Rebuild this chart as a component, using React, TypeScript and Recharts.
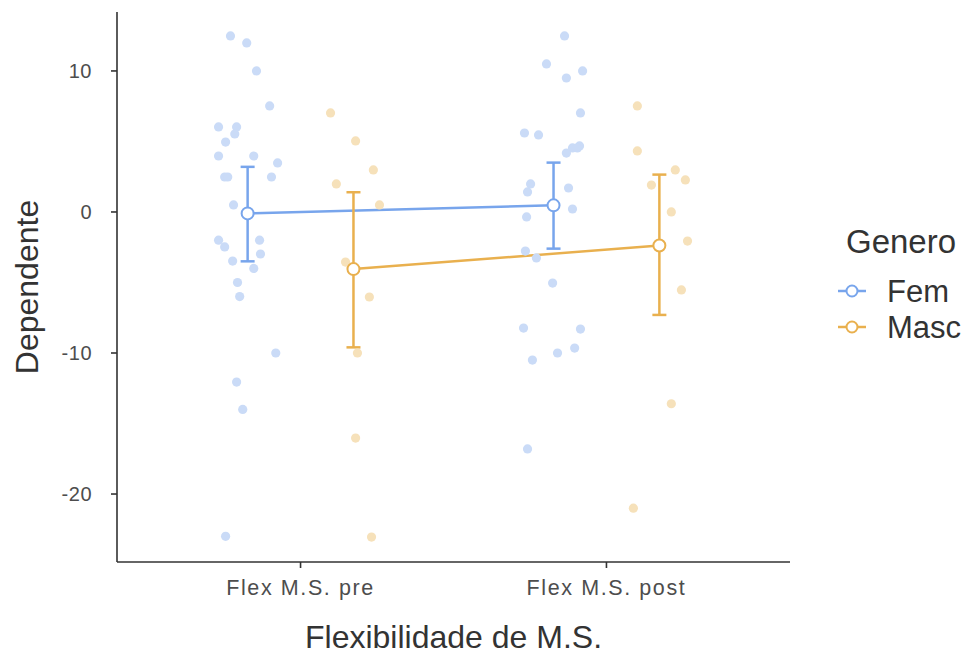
import React from 'react';
import { ComposedChart, Scatter, Line, XAxis, YAxis, ErrorBar, Label } from 'recharts';

// ---------- data ----------
const categories = ['Flex M.S. pre', 'Flex M.S. post'];
const groupNames = ['Fem', 'Masc'];
const groupColors = ['#78a5ec', '#e9b04e'];
const pointColors = ['#cadbf7', '#f6e1ba'];
const yTicks = [-20, -10, 0, 10];

const xTitle = 'Flexibilidade de M.S.';
const yTitle = 'Dependente';
const legendTitle = 'Genero';

// individual observations (value) and horizontal jitter (x units)
const femPreValues = [12.48, 11.99, 10.0, 7.52, 6.03, 6.03, 5.53, 4.96, 3.97, 3.97, 3.48, 2.48, 2.48, 2.48, 0.5, -2.0, -2.0, -2.48, -2.98, -3.48, -4.0, -5.0, -6.0, -10.0, -12.06, -14.0, -23.0];
const femPreJitter = [-0.056, -0.003, 0.029, 0.072, -0.095, -0.036, -0.042, -0.072, -0.095, 0.02, 0.098, -0.075, -0.065, 0.078, -0.046, -0.095, 0.039, -0.075, 0.042, -0.049, 0.02, -0.033, -0.026, 0.092, -0.036, -0.016, -0.072];

const femPostValues = [12.48, 10.5, 10.0, 9.5, 7.02, 5.6, 5.46, 4.68, 4.54, 4.54, 4.18, 1.99, 1.7, 1.42, 0.21, -0.35, -2.77, -3.26, -5.04, -8.23, -8.3, -9.65, -10.0, -10.5, -16.8];
const femPostJitter = [0.036, -0.023, 0.095, 0.042, 0.088, -0.095, -0.049, 0.085, 0.062, 0.078, 0.042, -0.075, 0.049, -0.085, 0.062, -0.088, -0.092, -0.056, -0.003, -0.098, 0.088, 0.069, 0.013, -0.069, -0.085];

const mascPreValues = [7.02, 5.04, 2.98, 1.99, 0.5, -3.55, -6.03, -10.0, -16.03, -23.05];
const mascPreJitter = [-0.075, 0.007, 0.065, -0.056, 0.085, -0.026, 0.052, 0.013, 0.007, 0.059];

const mascPostValues = [7.52, 4.33, 2.98, 2.27, 1.91, 0.0, -2.06, -5.53, -13.6, -21.0];
const mascPostJitter = [-0.072, -0.072, 0.052, 0.085, -0.026, 0.039, 0.092, 0.072, 0.039, -0.085];

// group means with confidence limits (pre, post)
const femMeans = [-0.1, 0.47];
const femLower = [-3.5, -2.6];
const femUpper = [3.2, 3.5];
const mascMeans = [-4.05, -2.38];
const mascLower = [-9.6, -7.3];
const mascUpper = [1.4, 2.65];

const dodge = 0.173;

// ---------- derived tables ----------
const toPoints = (vals: number[], jit: number[], cat: number, off: number) =>
  vals.map((v, i) => ({ x: cat + off + jit[i], y: v }));

const femPoints = [
  ...toPoints(femPreValues, femPreJitter, 1, -dodge),
  ...toPoints(femPostValues, femPostJitter, 2, -dodge),
];
const mascPoints = [
  ...toPoints(mascPreValues, mascPreJitter, 1, dodge),
  ...toPoints(mascPostValues, mascPostJitter, 2, dodge),
];

const toMeans = (m: number[], lo: number[], hi: number[], off: number) =>
  m.map((v, i) => ({ x: i + 1 + off, y: v, err: [v - lo[i], hi[i] - v] }));

const femMeanData = toMeans(femMeans, femLower, femUpper, -dodge);
const mascMeanData = toMeans(mascMeans, mascLower, mascUpper, dodge);

const FONT = '"Liberation Sans", Arial, sans-serif';

const XTick = (props: any) => {
  const { x, y, payload } = props;
  return (
    <text x={x} y={y} dy={27} textAnchor="middle" fill="#4d4d4d" fontSize={21.5} fontFamily={FONT} letterSpacing={1.6}>
      {categories[payload.value - 1]}
    </text>
  );
};

const YTick = (props: any) => {
  const { x, y, payload } = props;
  return (
    <text x={x} y={y} dy={7} textAnchor="end" fill="#4d4d4d" fontSize={20} fontFamily={FONT} letterSpacing={0.5}>
      {payload.value}
    </text>
  );
};

const YTitle = (props: any) => {
  const { viewBox } = props;
  const cx = viewBox.x + 27;
  const cy = viewBox.y + viewBox.height / 2;
  return (
    <text x={cx} y={cy} dy={11} transform={`rotate(-90, ${cx}, ${cy})`} textAnchor="middle" fill="#333" fontSize={32} fontFamily={FONT}>
      {yTitle}
    </text>
  );
};

const XTitle = (props: any) => {
  const { viewBox } = props;
  const cx = viewBox.x + viewBox.width / 2;
  return (
    <text x={cx} y={viewBox.y} dy={86} textAnchor="middle" fill="#333" fontSize={32} fontFamily={FONT}>
      {xTitle}
    </text>
  );
};

const PointShape = (color: string) => (props: any) => (
  <circle cx={props.cx} cy={props.cy} r={4.6} fill={color} />
);

const Legend = () => (
  <svg width={140} height={140} style={{ position: 'absolute', left: 828, top: 218 }}>
    <text x={18} y={35} fill="#333" fontSize={33} fontFamily={FONT}>{legendTitle}</text>
    {groupNames.map((g, i) => (
      <g key={g}>
        <line x1={10} x2={38} y1={73 + i * 36} y2={73 + i * 36} stroke={groupColors[i]} strokeWidth={2.5} />
        <circle cx={24} cy={73 + i * 36} r={5.5} fill="#fff" stroke={groupColors[i]} strokeWidth={2} />
        <text x={59} y={84 + i * 36} fill="#333" fontSize={31} fontFamily={FONT}>{g}</text>
      </g>
    ))}
  </svg>
);

export default function App() {
  return (
    <div style={{ position: 'absolute', left: 0, top: 0, width: 968, height: 654, background: '#fff' }}>
      <ComposedChart width={968} height={654} margin={{ top: 12, right: 178, bottom: 0, left: 0 }}>
        <XAxis
          type="number"
          dataKey="x"
          domain={[0.4, 2.6]}
          ticks={[1, 2]}
          allowDataOverflow
          height={92}
          tick={<XTick />}
          tickSize={6}
          tickMargin={0}
          axisLine={{ stroke: '#333', strokeWidth: 1.6 }}
          tickLine={{ stroke: '#333', strokeWidth: 1.6 }}
        >
          <Label content={<XTitle />} />
        </XAxis>
        <YAxis
          type="number"
          dataKey="y"
          domain={[-24.82, 14.18]}
          ticks={yTicks}
          allowDataOverflow
          width={117}
          tick={<YTick />}
          tickSize={6}
          tickMargin={19}
          axisLine={{ stroke: '#333', strokeWidth: 1.6 }}
          tickLine={{ stroke: '#333', strokeWidth: 1.6 }}
        >
          <Label content={<YTitle />} />
        </YAxis>
        <Scatter data={femPoints} dataKey="y" shape={PointShape(pointColors[0])} isAnimationActive={false} />
        <Scatter data={mascPoints} dataKey="y" shape={PointShape(pointColors[1])} isAnimationActive={false} />
        <Line
          data={femMeanData}
          dataKey="y"
          type="linear"
          stroke={groupColors[0]}
          strokeWidth={2.5}
          dot={{ r: 6, fill: '#fff', stroke: groupColors[0], strokeWidth: 2 }}
          isAnimationActive={false}
        >
          <ErrorBar dataKey="err" direction="y" width={7} stroke={groupColors[0]} strokeWidth={2.5} />
        </Line>
        <Line
          data={mascMeanData}
          dataKey="y"
          type="linear"
          stroke={groupColors[1]}
          strokeWidth={2.5}
          dot={{ r: 6, fill: '#fff', stroke: groupColors[1], strokeWidth: 2 }}
          isAnimationActive={false}
        >
          <ErrorBar dataKey="err" direction="y" width={7} stroke={groupColors[1]} strokeWidth={2.5} />
        </Line>
      </ComposedChart>
      <Legend />
    </div>
  );
}
